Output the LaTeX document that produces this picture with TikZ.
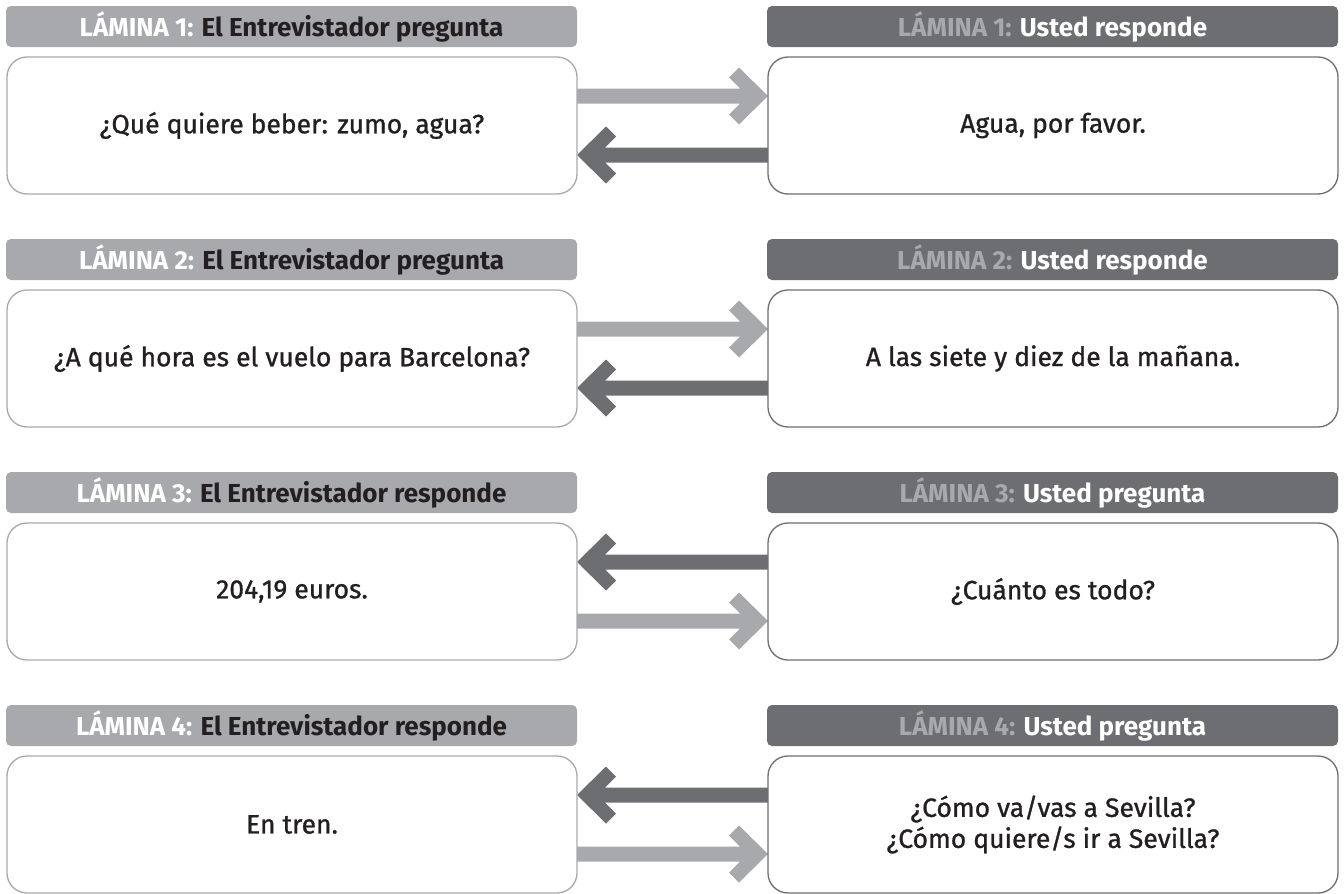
\documentclass[tikz,border=0pt]{standalone}
\usepackage{fontspec}
\setmainfont{Fira Sans}
\newfontfamily\bodyf[FakeBold=1]{Fira Sans}
\usetikzlibrary{calc,backgrounds}
\definecolor{lg}{HTML}{A7A9AC}
\definecolor{dg}{HTML}{6D6E71}
\definecolor{ink}{HTML}{231F20}
\tikzset{
  hdr/.style={rounded corners=5pt, minimum width=571pt, minimum height=41pt, inner sep=0pt, outer sep=0pt, anchor=north west, font=\fontsize{26}{30}\selectfont\bfseries},
  hdrL/.style={hdr, fill=lg, text=ink},
  hdrR/.style={hdr, fill=dg, text=white},
  box/.style={rounded corners=20pt, minimum width=570pt, minimum height=137pt, inner sep=0pt, outer sep=0pt, anchor=north west, fill=white, line width=1.3pt, align=center, font=\bodyf\fontsize{26.5}{31}\selectfont, text=ink},
  boxL/.style={box, draw=lg},
  boxR/.style={box, draw=dg},
}
% #1 colour, #2 direction (1 right, -1 left), #3 start, #4 tip
\newcommand\fatarrow[4]{%
  \fill[#1] let \p1=(#3), \p2=(#4) in
    (\x2,\y2) -- ({\x2-(#2)*29pt},{\y2+28.5pt}) -- ({\x2-(#2)*39pt},{\y2+18.5pt})
    -- ({\x2-(#2)*28pt},{\y2+7.5pt}) -- (\x1,{\y2+7.5pt}) -- (\x1,{\y2-7.5pt})
    -- ({\x2-(#2)*28pt},{\y2-7.5pt}) -- ({\x2-(#2)*39pt},{\y2-18.5pt})
    -- ({\x2-(#2)*29pt},{\y2-28.5pt}) -- cycle;}
\begin{document}
\begin{tikzpicture}[x=1pt,y=-1pt]
\useasboundingbox (0,0) rectangle (1344,894);
% row 1
\node[hdrL] (hL1) at (6,6) {\textcolor{white}{LÁMINA 1:} El Entrevistador pregunta};
\node[hdrR] (hR1) at (767,6) {\textcolor{lg}{LÁMINA 1:} Usted responde};
\node[boxL] (L1) at (7,57) {¿Qué quiere beber: zumo, agua?};
\node[boxR] (R1) at (768,57) {Agua, por favor.};
% row 2
\node[hdrL] (hL2) at (6,239) {\textcolor{white}{LÁMINA 2:} El Entrevistador pregunta};
\node[hdrR] (hR2) at (767,239) {\textcolor{lg}{LÁMINA 2:} Usted responde};
\node[boxL] (L2) at (7,290) {¿A qué hora es el vuelo para Barcelona?};
\node[boxR] (R2) at (768,290) {A las siete y diez de la mañana.};
% row 3
\node[hdrL] (hL3) at (6,472) {\textcolor{white}{LÁMINA 3:} El Entrevistador responde};
\node[hdrR] (hR3) at (767,472) {\textcolor{lg}{LÁMINA 3:} Usted pregunta};
\node[boxL] (L3) at (7,523) {204,19 euros.};
\node[boxR] (R3) at (768,523) {¿Cuánto es todo?};
% row 4
\node[hdrL] (hL4) at (6,705) {\textcolor{white}{LÁMINA 4:} El Entrevistador responde};
\node[hdrR] (hR4) at (767,705) {\textcolor{lg}{LÁMINA 4:} Usted pregunta};
\node[boxL] (L4) at (7,756) {En tren.};
\node[boxR] (R4) at (768,756) {¿Cómo va/vas a Sevilla?\\¿Cómo quiere/s ir a Sevilla?};
% arrow end points
\foreach \r in {1,2,3,4}{
  \coordinate (lu\r) at ($(L\r.east)+(0,-29.5)$);
  \coordinate (ru\r) at ($(R\r.west)+(0,-29.5)$);
  \coordinate (ld\r) at ($(L\r.east)+(0,29.5)$);
  \coordinate (rd\r) at ($(R\r.west)+(0,29.5)$);
}
\begin{scope}[on background layer]
\fatarrow{lg}{1}{lu1}{ru1}
\fatarrow{dg}{-1}{rd1}{ld1}
\fatarrow{lg}{1}{lu2}{ru2}
\fatarrow{dg}{-1}{rd2}{ld2}
\fatarrow{dg}{-1}{ru3}{lu3}
\fatarrow{lg}{1}{ld3}{rd3}
\fatarrow{dg}{-1}{ru4}{lu4}
\fatarrow{lg}{1}{ld4}{rd4}
\end{scope}
\end{tikzpicture}
\end{document}
